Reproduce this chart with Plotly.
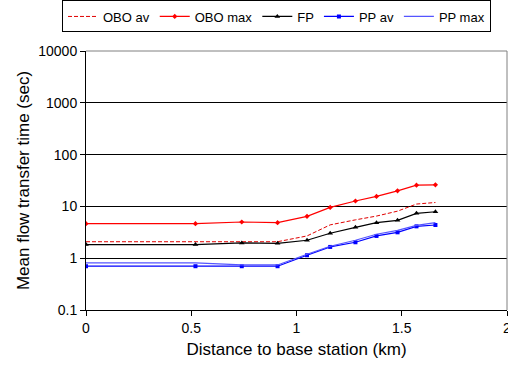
import plotly.graph_objects as go

distance_km = [0, 0.52, 0.74, 0.91, 1.05, 1.16, 1.28, 1.38, 1.48, 1.57, 1.66]
obo_av = [2.08, 2.08, 2.08, 2.08, 2.69, 4.4, 5.5, 6.5, 8.1, 11.1, 11.9]
obo_max = [4.64, 4.64, 5.0, 4.85, 6.42, 9.57, 12.7, 15.6, 20.0, 25.7, 26.1]
fp = [1.83, 1.83, 1.97, 1.94, 2.22, 3.03, 3.95, 4.85, 5.38, 7.34, 7.89]
pp_av = [0.70, 0.70, 0.70, 0.70, 1.14, 1.65, 2.03, 2.69, 3.16, 4.12, 4.37]
pp_max = [0.81, 0.81, 0.74, 0.74, 1.19, 1.70, 2.22, 2.90, 3.45, 4.31, 4.85]

y_tickvals = [0.1, 1, 10, 100, 1000, 10000]
y_ticktext = ["0.1", "1", "10", "100", "1000", "10000"]
x_tickvals = [0, 0.5, 1, 1.5, 2]
x_ticktext = ["0", "0.5", "1", "1.5", "2"]

fig = go.Figure()
fig.add_trace(go.Scatter(x=distance_km, y=obo_av, name="OBO av", mode="lines",
                         line=dict(color="#E00000", width=1, dash="4px,2px")))
fig.add_trace(go.Scatter(x=distance_km, y=obo_max, name="OBO max", mode="lines+markers",
                         line=dict(color="#FF0000", width=1.2),
                         marker=dict(symbol="diamond", size=4, color="#FF0000")))
fig.add_trace(go.Scatter(x=distance_km, y=fp, name="FP", mode="lines+markers",
                         line=dict(color="#000000", width=1.2),
                         marker=dict(symbol="triangle-up", size=5, color="#000000")))
fig.add_trace(go.Scatter(x=distance_km, y=pp_av, name="PP av", mode="lines+markers",
                         line=dict(color="#0000FF", width=1.2),
                         marker=dict(symbol="square", size=4, color="#0000FF")))
fig.add_trace(go.Scatter(x=distance_km, y=pp_max, name="PP max", mode="lines",
                         line=dict(color="#5555FF", width=1.2)))

font_family = "Liberation Sans, Arial, sans-serif"
fig.update_layout(
    width=508, height=365,
    margin=dict(l=86, r=1, t=51, b=55, autoexpand=False),
    paper_bgcolor="white", plot_bgcolor="white",
    font=dict(family=font_family, color="black", size=14),
    showlegend=True,
    legend=dict(orientation="h", x=-0.057, xanchor="left", y=1.195, yref="paper",
                yanchor="top", bordercolor="black", borderwidth=1,
                font=dict(size=13, family=font_family), itemwidth=30,
                tracegroupgap=0, bgcolor="white"),
    xaxis=dict(range=[0, 2], tickvals=x_tickvals, ticktext=x_ticktext,
               showgrid=False, zeroline=False, showline=True, linecolor="black",
               linewidth=1, ticks="outside", ticklen=5, tickcolor="black",
               tickfont=dict(size=14), automargin=False, ticklabeloverflow="allow",
               title=dict(text="Distance to base station (km)", font=dict(size=17), standoff=8)),
    yaxis=dict(type="log", range=[-1, 4], tickvals=y_tickvals, ticktext=y_ticktext,
               showgrid=True, gridcolor="black", gridwidth=1, zeroline=False,
               showline=True, linecolor="black", linewidth=1, ticks="outside",
               ticklen=5, tickcolor="black", tickfont=dict(size=14), automargin=False,
               title=dict(text="Mean flow transfer time (sec)", font=dict(size=17), standoff=4)),
)
# grey top/right border of the plot area
fig.add_shape(type="line", xref="paper", yref="paper", x0=0, x1=1, y0=1, y1=1,
              line=dict(color="#808080", width=1))
fig.add_shape(type="line", xref="paper", yref="paper", x0=1, x1=1, y0=0, y1=1,
              line=dict(color="#808080", width=1))

fig.write_html("out.html", config={"displayModeBar": False},
               post_script="document.body.style.margin='0';document.body.style.overflow='hidden';")
